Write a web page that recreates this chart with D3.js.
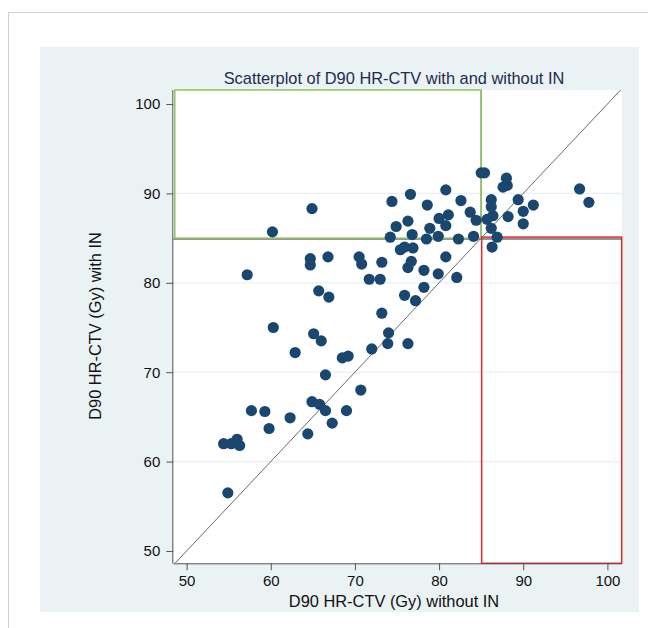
<!DOCTYPE html>
<html>
<head>
<meta charset="utf-8">
<script src="https://cdn.jsdelivr.net/npm/d3@7/dist/d3.min.js"></script>
<style>
html,body{margin:0;padding:0;background:#fff;}
svg{display:block;}
text{font-family:"Liberation Sans",Arial,sans-serif;}
</style>
</head>
<body>
<svg id="chart" width="648" height="628"></svg>
<script>
// D90 HR-CTV (Gy) without IN
const withoutIN = [60.2,57.2,64.7,64.7,66.8,65.7,66.9,60.3,65.1,66.0,62.9,68.5,69.2,66.5,64.9,65.8,66.5,69.0,57.7,59.3,59.8,62.3,67.3,64.4,54.4,55.3,56.0,56.3,54.9,
  70.7,70.8,70.5,73.2,71.7,73.0,75.4,75.9,76.9,76.7,76.3,78.2,79.9,80.8,82.1,78.2,75.9,77.2,73.2,74.0,73.9,76.3,72.0,
  85.0,85.4,76.6,80.8,74.4,82.6,78.6,64.9,83.7,80.0,81.1,80.8,74.9,76.3,78.9,84.4,74.2,76.8,78.5,79.9,82.3,84.1,
  88.0,87.6,88.1,96.7,97.8,86.2,86.2,89.4,91.2,90.0,90.0,88.2,86.4,85.7,86.2,86.9,86.3];
// D90 HR-CTV (Gy) with IN
const withIN = [85.7,80.9,82.7,82.0,82.9,79.1,78.4,75.0,74.3,73.5,72.2,71.6,71.8,69.7,66.7,66.4,65.7,65.7,65.7,65.6,63.7,64.9,64.3,63.1,62.0,62.0,62.5,61.8,56.5,
  68.0,82.1,82.9,82.3,80.4,80.4,83.7,84.0,83.9,82.4,81.7,81.4,81.0,82.9,80.6,79.5,78.6,78.0,76.6,74.4,73.2,73.2,72.6,
  92.3,92.3,89.9,90.4,89.1,89.2,88.7,88.3,87.9,87.2,87.6,86.4,86.3,86.9,86.1,87.0,85.1,85.4,84.9,85.2,84.9,85.2,
  91.7,90.7,90.9,90.5,89.0,89.3,88.5,89.3,88.7,88.0,86.6,87.4,87.5,87.1,86.1,85.1,84.0];
const xTicks = [50,60,70,80,90,100];
const yTicks = [50,60,70,80,90,100];
const yGrid = [60,70,80,90];
const cutoff = 85;
const titleText = "Scatterplot of D90 HR-CTV with and without IN";
const xLabel = "D90 HR-CTV (Gy) without IN";
const yLabel = "D90 HR-CTV (Gy) with IN";

const svg = d3.select("#chart");
const L = 173.3, R = 621.7, T = 90, B = 563.3;
const x = d3.scaleLinear().domain([48.42, 101.7]).range([L, R]);
const y = d3.scaleLinear().domain([48.62, 101.57]).range([B, T]);

// outer frame & graph region
svg.append("rect").attr("x",8.5).attr("y",12.5).attr("width",800).attr("height",800)
  .attr("fill","#fff").attr("stroke","#cfcfcf");
svg.append("rect").attr("x",40).attr("y",47).attr("width",599).attr("height",565).attr("fill","#eaf2f3");
// plot region
svg.append("rect").attr("x",L).attr("y",T).attr("width",R-L).attr("height",B-T).attr("fill","#fff");

// grid
svg.append("g").selectAll("line").data(yGrid).join("line")
  .attr("x1",L).attr("x2",R).attr("y1",d=>y(d)).attr("y2",d=>y(d))
  .attr("stroke","#e6f0f2").attr("stroke-width",1.2);

// diagonal
const dLo = Math.max(x.domain()[0], y.domain()[0]), dHi = Math.min(x.domain()[1], y.domain()[1]);
svg.append("line").attr("x1",x(dLo)).attr("y1",y(dLo)).attr("x2",x(dHi)).attr("y2",y(dHi))
  .attr("stroke","#6a6a6a").attr("stroke-width",1);

// reference lines at cutoff
svg.append("line").attr("x1",L).attr("x2",R).attr("y1",y(cutoff)+1).attr("y2",y(cutoff)+1)
  .attr("stroke","#707070").attr("stroke-width",1.5);
svg.append("line").attr("x1",x(cutoff)).attr("x2",x(cutoff)).attr("y1",T).attr("y2",y(cutoff))
  .attr("stroke","#707070").attr("stroke-width",1.2);

// green box (x < cutoff, y > cutoff)
svg.append("rect").attr("x",L+1.5).attr("y",T)
  .attr("width",x(cutoff)-L-1.5).attr("height",y(cutoff)-T)
  .attr("fill","none").attr("stroke","#8cc660").attr("stroke-width",1.5);
// red box (x > cutoff, y < cutoff)
svg.append("rect").attr("x",x(cutoff)+0.5).attr("y",y(cutoff)-1)
  .attr("width",R-x(cutoff)-0.5).attr("height",B-y(cutoff)+1)
  .attr("fill","none").attr("stroke","#e4262c").attr("stroke-width",1.5);

// points
const pts = withoutIN.map((v,i)=>[v, withIN[i]]);
svg.append("g").selectAll("circle").data(pts).join("circle")
  .attr("cx",d=>x(d[0])).attr("cy",d=>y(d[1])).attr("r",5.6)
  .attr("fill","#1a476f");

// axes
const xAxis = d3.axisBottom(x).tickValues(xTicks).tickSize(7).tickPadding(5);
const gx = svg.append("g").attr("transform",`translate(0,${B})`).call(xAxis);
gx.select(".domain").attr("d",`M${L},0.5H${R}`).attr("stroke","#555");
gx.selectAll(".tick line").attr("stroke","#555");
gx.selectAll("text").attr("font-size",15).attr("fill","#111").attr("font-family","Liberation Sans, Arial, sans-serif");

const yAxis = d3.axisLeft(y).tickValues(yTicks).tickSize(7).tickPadding(6);
const gy = svg.append("g").attr("transform",`translate(${L},0)`).call(yAxis);
gy.select(".domain").attr("d",`M-0.5,${T}V${B}`).attr("stroke","#555");
gy.selectAll(".tick line").attr("stroke","#555");
gy.selectAll("text").attr("font-size",15).attr("fill","#111").attr("font-family","Liberation Sans, Arial, sans-serif");

// title
svg.append("text").attr("x",394).attr("y",84).attr("text-anchor","middle")
  .attr("font-size",16.4).attr("fill","#1e2b4f").text(titleText);
// axis labels
svg.append("text").attr("x",394).attr("y",607).attr("text-anchor","middle")
  .attr("font-size",16.4).attr("fill","#111").text(xLabel);
svg.append("text").attr("transform","translate(101,326) rotate(-90)").attr("text-anchor","middle")
  .attr("font-size",16.4).attr("fill","#111").text(yLabel);
</script>
</body>
</html>
